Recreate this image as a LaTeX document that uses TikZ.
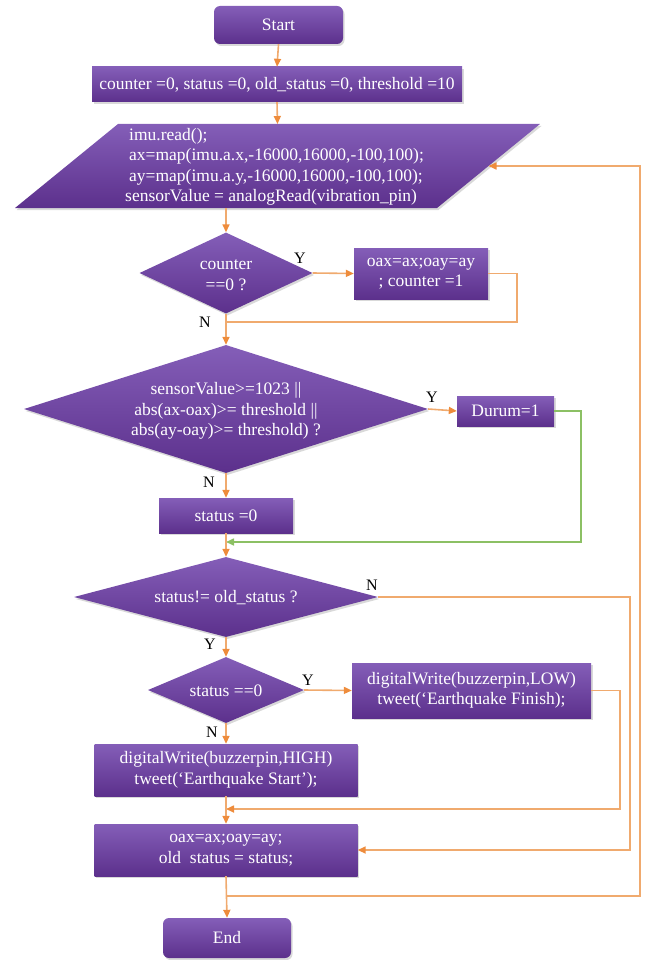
\documentclass[tikz,border=0pt]{standalone}
\usepackage{fontspec}
\setmainfont{Liberation Serif}
\usetikzlibrary{shapes.geometric,arrows.meta,shadows}
\definecolor{pT}{RGB}{132,94,184}
\definecolor{pB}{RGB}{92,48,140}
\definecolor{lineO}{RGB}{240,170,110}
\definecolor{tipO}{RGB}{238,140,60}
\definecolor{lineG}{RGB}{140,192,100}
\begin{document}
\begin{tikzpicture}[x=1pt,y=-1pt,
  base/.style={top color=pT, bottom color=pB, draw=none, text=white,
    font=\fontsize{17.5}{20.5}\selectfont, align=center, inner sep=2pt,
    drop shadow={opacity=0.3, shadow xshift=1.5pt, shadow yshift=-2pt}},
  procbox/.style={base, rectangle},
  termbox/.style={base, rectangle, rounded corners=6pt},
  decbox/.style={base, diamond, inner sep=0pt},
  txt/.style={text=white, font=\fontsize{17.5}{20.5}\selectfont, align=center, inner sep=0pt},
  lab/.style={text=black, font=\fontsize{16}{18}\selectfont, inner sep=0pt},
  ln/.style={draw=lineO, line width=1.6pt},
  arr/.style={draw=lineO, line width=1.6pt, -{Triangle[length=8pt,width=7pt,color=tipO]}},
  garr/.style={draw=lineG, line width=1.6pt, -{Triangle[length=8pt,width=7pt]}}
]
\useasboundingbox (0,0) rectangle (645,960);

% nodes
\node[termbox, minimum width=129, minimum height=38] (start) at (278.5,25) {Start};
\node[procbox, minimum width=370, minimum height=35] (init) at (277,84.5) {counter =0, status =0, old\_status =0, threshold =10};

% input/output parallelogram
\path[top color=pT, bottom color=pB, drop shadow={opacity=0.3, shadow xshift=1.5pt, shadow yshift=-2pt}]
  (15,208) -- (118,124) -- (540,124) -- (437,208) -- cycle;
\coordinate (par-n) at (277.5,124);
\coordinate (par-s) at (226,208);
\coordinate (par-e) at (488.5,166);
\node[txt, align=left, anchor=west] (partxt) at (129,167) {imu.read();\\ax=map(imu.a.x,-16000,16000,-100,100);\\ay=map(imu.a.y,-16000,16000,-100,100);\\\hspace*{-4pt}sensorValue = analogRead(vibration\_pin)};

\node[decbox, minimum width=173, minimum height=81] (d1) at (226,273) {};
\node[txt] (d1t) at (226,275) {counter\\==0 ?};
\node[procbox, minimum width=134, minimum height=51] (b1) at (421,273.5) {oax=ax;oay=ay\\; counter =1};

\node[decbox, minimum width=404, minimum height=128] (d2) at (226,409) {};
\node[txt] (d2t) at (226,411) {sensorValue>=1023 ||\\abs(ax-oax)>= threshold ||\\abs(ay-oay)>= threshold) ?};
\node[procbox, minimum width=97, minimum height=30] (durum) at (505.5,411) {Durum=1};

\node[procbox, minimum width=134, minimum height=35] (s0) at (226,515.5) {status =0};

\node[decbox, minimum width=304, minimum height=80] (d3) at (226,597) {};
\node[txt] (d3t) at (226,598) {status!= old\_status ?};

\node[decbox, minimum width=156, minimum height=66] (d4) at (226,690) {};
\node[txt] (d4t) at (226,691) {status ==0};
\node[procbox, minimum width=239, minimum height=55] (low) at (471.5,690.5) {digitalWrite(buzzerpin,LOW)\\tweet(‘Earthquake Finish);};

\node[procbox, minimum width=263, minimum height=52] (high) at (226,770) {digitalWrite(buzzerpin,HIGH)\\tweet(‘Earthquake Start’);};
\node[procbox, minimum width=263, minimum height=52] (fin) at (226,850) {oax=ax;oay=ay;\\old\ \ status = status;};
\node[termbox, minimum width=128, minimum height=40] (endn) at (227,938) {End};

% junctions
\coordinate (j1) at (226,322);
\coordinate (j2) at (226,542);
\coordinate (j3) at (226,809);
\coordinate (j4) at (226,896);

% connectors
\draw[arr] (start.south) -- (init.north);
\draw[arr] (init.south) -- (par-n);
\draw[arr] (par-s) -- (d1.north);
\draw[arr] (d1.east) -- (b1.west);
\draw[ln] (b1.east) -- ++(29,0) |- (j1);
\draw[arr] (d1.south) -- (d2.north);
\draw[arr] (d2.east) -- (durum.west);
\draw[garr] (durum.east) -- ++(27,0) |- (j2);
\draw[arr] (d2.south) -- (s0.north);
\draw[arr] (s0.south) -- (d3.north);
\draw[arr] (d3.east) -- ++(252,0) |- (fin.east);
\draw[arr] (d3.south) -- (d4.north);
\draw[arr] (d4.east) -- (low.west);
\draw[arr] (low.east) -- ++(29,0) |- (j3);
\draw[arr] (d4.south) -- (high.north);
\draw[arr] (high.south) -- (fin.north);
\draw[arr] (fin.south) -- (endn.north);
\draw[arr] (j4) -- ++(414,0) |- (par-e);

% labels
\node[lab] (y1) at (300,258) {Y};
\node[lab] (n1) at (205,322) {N};
\node[lab] (y2) at (432,397) {Y};
\node[lab] (n2) at (209,482) {N};
\node[lab] (n3) at (372,585) {N};
\node[lab] (y3) at (210,644) {Y};
\node[lab] (y4) at (308,680) {Y};
\node[lab] (n4) at (212,732) {N};
\end{tikzpicture}
\end{document}
